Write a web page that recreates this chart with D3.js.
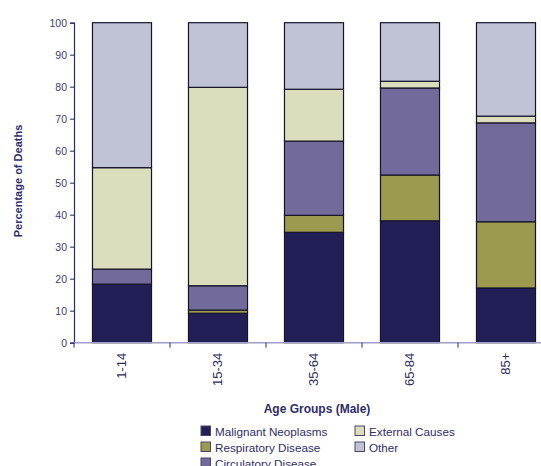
<!DOCTYPE html>
<html>
<head>
<meta charset="utf-8">
<script src="https://cdn.jsdelivr.net/npm/d3@7"></script>
<style>
  html, body { margin: 0; padding: 0; background: #fff; overflow: hidden; }
  svg { display: block; font-family: "Liberation Sans", Arial, sans-serif; }
</style>
</head>
<body>
<svg id="chart" width="541" height="466"></svg>
<script>
// Age groups along the x axis
const ageGroups = ["1-14", "15-34", "35-64", "65-84", "85+"];

// Percentage of deaths by cause, one value per age group
const malignantNeoplasms = [18.3, 9.2, 34.5, 38.1, 17.1];
const respiratoryDisease = [0.0, 1.0, 5.3, 14.3, 20.7];
const circulatoryDisease = [4.7, 7.6, 23.2, 27.2, 30.9];
const externalCauses     = [31.7, 62.0, 16.2, 2.1, 2.1];
const otherCauses        = [45.3, 20.2, 20.8, 18.3, 29.2];

const seriesNames = ["Malignant Neoplasms", "Respiratory Disease", "Circulatory Disease", "External Causes", "Other"];
const seriesColors = ["#221f56", "#9c9a4e", "#736a9c", "#dcddbd", "#c0c3d6"];
const yTicks = [0, 10, 20, 30, 40, 50, 60, 70, 80, 90, 100];

const rows = ageGroups.map((g, i) => ({
  group: g,
  "Malignant Neoplasms": malignantNeoplasms[i],
  "Respiratory Disease": respiratoryDisease[i],
  "Circulatory Disease": circulatoryDisease[i],
  "External Causes": externalCauses[i],
  "Other": otherCauses[i]
}));

const svg = d3.select("#chart");
const textColor = "#2e2d6b";

const x = d3.scaleBand().domain(ageGroups).range([74, 554]).paddingInner(0.385).paddingOuter(0.1925);
const y = d3.scaleLinear().domain([0, 100]).range([342.7, 22.7]);
const color = d3.scaleOrdinal().domain(seriesNames).range(seriesColors);

const stacked = d3.stack().keys(seriesNames)(rows);

// Stacked bars
svg.append("g")
  .selectAll("g")
  .data(stacked)
  .join("g")
    .attr("fill", d => color(d.key))
  .selectAll("rect")
  .data(d => d)
  .join("rect")
    .attr("x", d => x(d.data.group))
    .attr("y", d => y(d[1]))
    .attr("width", x.bandwidth())
    .attr("height", d => y(d[0]) - y(d[1]))
    .attr("stroke", "#15142a")
    .attr("stroke-width", 1.2);

// Y axis
const yAxis = svg.append("g")
  .attr("transform", "translate(74,0)")
  .call(d3.axisLeft(y).tickValues(yTicks).tickSize(4).tickPadding(3));
yAxis.select(".domain").attr("stroke", "#2a2870").attr("stroke-width", 1.2);
yAxis.selectAll(".tick line").attr("stroke", "#2a2870");
yAxis.selectAll("text").attr("fill", "#3c3b74").style("font-size", "10.5px");

// X axis: baseline, category separators and rotated labels
const gap = (x.step() - x.bandwidth()) / 2;
const xAxis = svg.append("g")
  .attr("transform", "translate(0,342.7)");
xAxis.append("line")
  .attr("x1", 74).attr("x2", 554)
  .attr("stroke", "#a09dc6").attr("stroke-width", 1.6);
xAxis.selectAll("line.sep")
  .data(ageGroups)
  .join("line")
    .attr("class", "sep")
    .attr("x1", d => x(d) - gap)
    .attr("x2", d => x(d) - gap)
    .attr("y1", 0).attr("y2", 5)
    .attr("stroke", "#2a2870");
xAxis.selectAll("text.cat")
  .data(ageGroups)
  .join("text")
    .attr("class", "cat")
    .attr("transform", d => `translate(${x(d) + x.bandwidth() / 2 + 4},10) rotate(-90)`)
    .attr("text-anchor", "end")
    .attr("fill", "#2e2d5e")
    .style("font-size", "13px")
    .text(d => d);

// Axis titles
svg.append("text")
  .attr("transform", "translate(22,181) rotate(-90)")
  .attr("text-anchor", "middle")
  .attr("fill", textColor)
  .style("font-size", "11px")
  .style("font-weight", "bold")
  .text("Percentage of Deaths");

svg.append("text")
  .attr("x", 317).attr("y", 413)
  .attr("text-anchor", "middle")
  .attr("fill", textColor)
  .style("font-size", "12px")
  .style("font-weight", "bold")
  .text("Age Groups (Male)");

// Legend: two columns
const legendPos = [
  { x: 201, y: 426 }, { x: 201, y: 442 }, { x: 201, y: 458 },
  { x: 355, y: 426 }, { x: 355, y: 442 }
];
const legend = svg.append("g")
  .selectAll("g")
  .data(seriesNames)
  .join("g")
    .attr("transform", (d, i) => `translate(${legendPos[i].x},${legendPos[i].y})`);
legend.append("rect")
  .attr("width", 9.5).attr("height", 9.5)
  .attr("fill", d => color(d))
  .attr("stroke", "#4a4866").attr("stroke-width", 1);
legend.append("text")
  .attr("x", 14).attr("y", 9.5)
  .attr("fill", "#2e2d6b")
  .style("font-size", "11.7px")
  .text(d => d);
</script>
</body>
</html>
